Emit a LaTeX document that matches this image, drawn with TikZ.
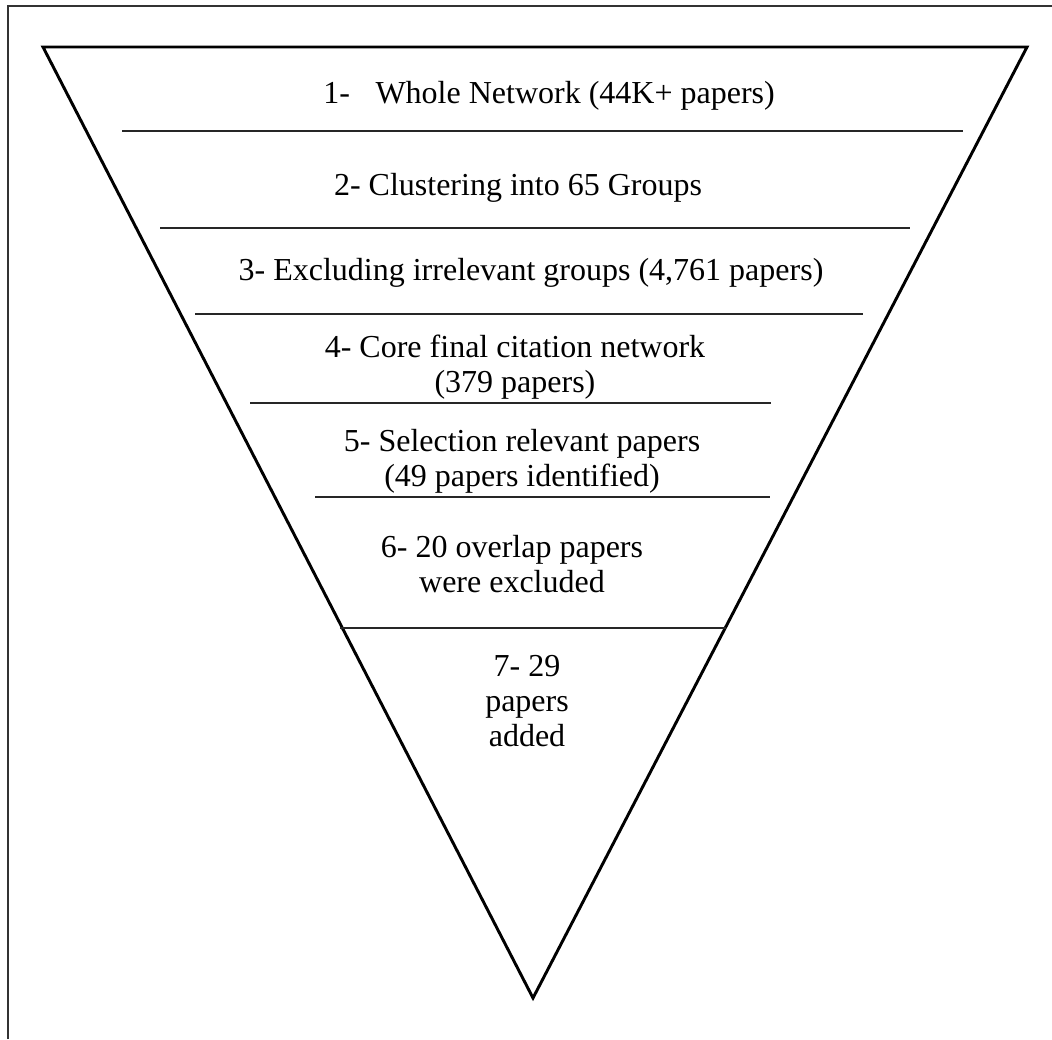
\documentclass[tikz,border=0pt]{standalone}
\usepackage{fontspec}
\setmainfont{Liberation Serif}
\begin{document}
\begin{tikzpicture}[x=0.75pt,y=-0.75pt,
  frameline/.style={line width=1.2pt,black!80},
  funnel/.style={line width=2.2pt,line join=miter},
  divider/.style={line width=1.4pt,black!85},
  stage/.style={align=center,inner sep=0pt,font=\fontsize{24pt}{26.5pt}\selectfont}]
  \useasboundingbox (0,0) rectangle (1052,1039);
  % page frame (top and left edges)
  \coordinate (fa) at (8,1039);
  \coordinate (fb) at (8,6);
  \coordinate (fc) at (1052,6);
  \draw[frameline] (fa) -- (fb) -- (fc);
  % funnel outline
  \coordinate (tl) at (43,47);
  \coordinate (tr) at (1027,47);
  \coordinate (tip) at (533,998);
  \draw[funnel] (tl) -- (tr) -- (tip) -- cycle;
  % dividers between stages
  \foreach \n/\y/\xa/\xb in {1/131/122/963, 2/228/160/910, 3/314/195/863,
                             4/403/250/771, 5/497/315/770, 6/628/340/726}{
    \coordinate (d\n l) at (\xa,\y);
    \coordinate (d\n r) at (\xb,\y);
    \draw[divider] (d\n l) -- (d\n r);
  }
  % stage labels
  \node[stage] (s1) at (549,96) {1-\hspace{0.8em}Whole Network (44K+ papers)};
  \node[stage] (s2) at (518,188) {2- Clustering into 65 Groups};
  \node[stage] (s3) at (531,273) {3- Excluding irrelevant groups (4,761 papers)};
  \node[stage] (s4) at (515,367) {4- Core final citation network\\(379 papers)};
  \node[stage] (s5) at (522,461) {5- Selection relevant papers\\(49 papers identified)};
  \node[stage] (s6) at (512,564) {6- 20 overlap papers\\were excluded};
  \node[stage] (s7) at (527,701) {7- 29\\papers\\added};
\end{tikzpicture}
\end{document}
